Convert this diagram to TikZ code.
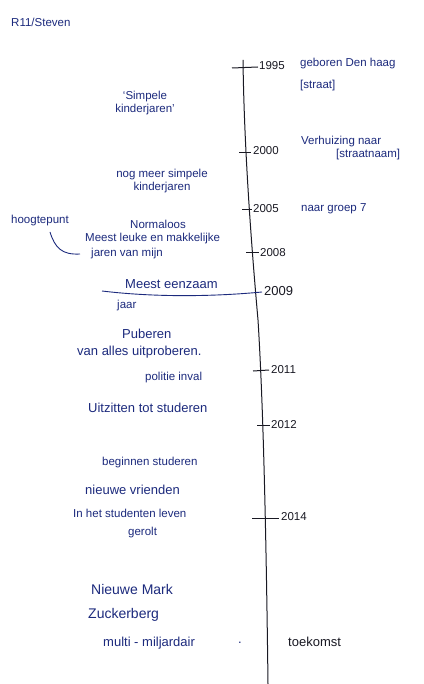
\documentclass[tikz,border=0pt]{standalone}
\usepackage{fontspec}
\setmainfont{Liberation Sans}
\definecolor{ink}{RGB}{28,42,125}
\definecolor{pen}{RGB}{25,25,35}
\begin{document}
\begin{tikzpicture}[x=1pt,y=-1pt,
  lbl/.style={font=\fontsize{11.5}{13}\selectfont, text=ink, inner sep=1pt, align=center},
  big/.style={font=\fontsize{13}{15}\selectfont, text=ink, inner sep=1pt, anchor=west},
  yr/.style={font=\fontsize{11.5}{13}\selectfont, text=pen, inner sep=1pt, anchor=west},
  axis/.style={draw=pen, line width=1pt},
  tick/.style={draw=pen, line width=1pt}]
\useasboundingbox (0,0) rectangle (423,684);
\fill[white] (0,0) rectangle (423,684);
% main line
\draw[axis] (243,60) .. controls (244,140) and (250,230) .. (258,320) .. controls (263,400) and (266,520) .. (268,684);
% ticks
\coordinate (t95a) at (232,68); \coordinate (t95b) at (258,67);
\draw[tick] (t95a) -- (t95b);
\coordinate (t00a) at (239,153); \coordinate (t00b) at (251,153);
\draw[tick] (t00a) -- (t00b);
\coordinate (t05a) at (242,210); \coordinate (t05b) at (252,210);
\draw[tick] (t05a) -- (t05b);
\coordinate (t08a) at (246,253); \coordinate (t08b) at (259,253);
\draw[tick] (t08a) -- (t08b);
\coordinate (t11a) at (253,371); \coordinate (t11b) at (269,370);
\draw[tick] (t11a) -- (t11b);
\coordinate (t12a) at (257,425); \coordinate (t12b) at (270,425);
\draw[tick] (t12a) -- (t12b);
\coordinate (t14a) at (252,518); \coordinate (t14b) at (279,518);
\draw[tick] (t14a) -- (t14b);
% 2009 horizontal line
\coordinate (h09a) at (102,291); \coordinate (h09b) at (262,292);
\draw[draw=ink, line width=0.9pt] (h09a) .. controls (160,298) and (220,296) .. (h09b);
% years
\node[yr] (y95) at (258,66) {1995};
\node[yr] (y00) at (252,151) {2000};
\node[yr] (y05) at (252,209) {2005};
\node[yr] (y08) at (259,253) {2008};
\node[yr, font=\fontsize{13}{15}\selectfont] (y09) at (263,291) {2009};
\node[yr] (y11) at (270,370) {2011};
\node[yr] (y12) at (270,425) {2012};
\node[yr] (y14) at (280,517) {2014};
% right side texts
\node[lbl, anchor=west] (e95) at (299,64) {geboren Den haag};
\node[lbl, anchor=west] (e95b) at (299,86) {[straat]};
\node[lbl, anchor=west] (e00) at (300,142) {Verhuizing naar};
\node[lbl, anchor=west] (e00b) at (335,155) {[straatnaam]};
\node[lbl, anchor=west] (e05) at (300,209) {naar groep 7};
\node[big, text=pen] (toek) at (287,642) {toekomst};
% title
\node[lbl, anchor=west, text=ink] (title) at (10,22) {R11/Steven};
% left texts
\node[lbl] (k1) at (145,103) {`Simpele\\ kinderjaren'};
\node[lbl] (k2) at (162,181) {nog meer simpele\\ kinderjaren};
\node[lbl] (zorg) at (158,224) {Normaloos};
\node[lbl, anchor=west] (leuk) at (84,239) {Meest leuke en makkelijke};
\node[lbl, anchor=west] (jaren) at (90,254) {jaren van mijn};
\node[lbl, anchor=west] (hoog) at (10,221) {hoogtepunt};
\coordinate (hs) at (50,232);
\coordinate (hc) at (80,254);
\draw[draw=ink, line width=0.9pt] (hs) .. controls (55,248) and (62,255) .. (hc);
\node[big] (eenz) at (124,284) {Meest eenzaam};
\node[lbl, anchor=west] (jaar) at (116,306) {jaar};
\node[big] (pub) at (121,334) {Puberen};
\node[big] (uitp) at (76,352) {van alles uitproberen.};
\node[lbl, anchor=west] (pol) at (144,378) {politie inval};
\node[big] (uitz) at (87,408) {Uitzitten tot studeren};
\node[lbl, anchor=west] (begin) at (101,463) {beginnen studeren};
\node[big] (vriend) at (84,490) {nieuwe vrienden};
\node[lbl, anchor=west] (leven) at (72,513) {In het studenten leven};
\node[lbl, anchor=west] (gerolt) at (127,533) {gerolt};
\node[big, font=\fontsize{14}{16}\selectfont] (mark) at (90,589) {Nieuwe Mark};
\node[big, font=\fontsize{14}{16}\selectfont] (zuck) at (87,615) {Zuckerberg};
\node[big] (multi) at (102,643) {multi - miljardair};
\node[big] (dot) at (237,643) {.};
\end{tikzpicture}
\end{document}
